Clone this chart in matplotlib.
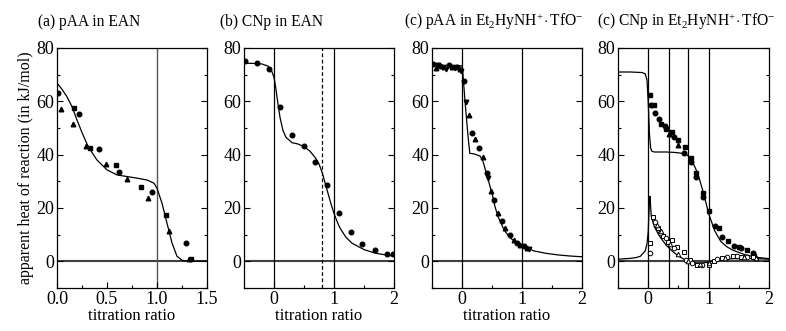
import numpy as np
import matplotlib
matplotlib.use('Agg')
import matplotlib.pyplot as plt
from matplotlib.ticker import MultipleLocator

plt.rcParams['font.family'] = ['Liberation Serif', 'DejaVu Serif']
plt.rcParams['mathtext.fontset'] = 'custom'
plt.rcParams['mathtext.rm'] = 'Liberation Serif'
plt.rcParams['mathtext.it'] = 'Liberation Serif:italic'

# (a) pAA in EAN
a_circ_x = [0.01, 0.22, 0.42, 0.62, 0.95, 1.29]
a_circ_y = [63.3, 55.3, 42.2, 33.6, 25.9, 6.9]
a_sq_x = [0.17, 0.33, 0.59, 0.84, 1.09, 1.34]
a_sq_y = [57.6, 42.6, 36.1, 27.7, 17.2, 0.9]
a_tri_x = [0.04, 0.16, 0.29, 0.49, 0.70, 0.91, 1.12, 1.32]
a_tri_y = [57.3, 51.5, 43.2, 36.5, 30.9, 23.7, 11.2, 0.9]
a_fit_x = [0.0, 0.05, 0.1, 0.15, 0.2, 0.25, 0.3, 0.35, 0.4, 0.5, 0.6, 0.7, 0.8,
           0.9, 0.97, 1.0, 1.05, 1.1, 1.15, 1.2, 1.25, 1.3, 1.5]
a_fit_y = [66.9, 64.5, 61.7, 58.0, 53.0, 48.3, 44.0, 40.8, 38.0, 34.3, 32.4, 31.8,
           31.2, 30.5, 29.3, 27.4, 21.8, 14.3, 6.9, 1.9, 0.4, 0.0, 0.0]

# (b) CNp in EAN
b_x = [-0.48, -0.28, -0.09, 0.106, 0.30, 0.50, 0.69, 0.88, 1.08, 1.28, 1.47, 1.69, 1.88, 1.98]
b_y = [75.0, 74.5, 72.3, 57.9, 47.5, 43.4, 37.1, 28.5, 18.3, 11.0, 6.5, 4.1, 2.9, 2.6]
b_fit_x = [-0.5, -0.3, -0.2, -0.1, -0.05, 0.0, 0.03, 0.06, 0.1, 0.15, 0.2, 0.3, 0.4,
           0.5, 0.6, 0.7, 0.75, 0.8, 0.85, 0.9, 0.95, 1.0, 1.05, 1.1, 1.2, 1.3, 1.5,
           1.7, 2.0]
b_fit_y = [74.3, 74.2, 74.0, 73.2, 72.0, 69.0, 65.0, 60.0, 54.0, 49.0, 46.5, 44.5,
           44.0, 43.0, 41.3, 38.5, 36.5, 33.5, 29.5, 25.5, 21.5, 18.0, 15.0, 12.5,
           9.0, 6.8, 4.4, 3.0, 1.9]

# (c) pAA in Et2HyNH+ TfO-
c_circ_x = [-0.48, -0.36, -0.22, -0.08, 0.04, 0.17, 0.29, 0.42, 0.54, 0.67, 0.80, 0.92, 1.03]
c_circ_y = [74.0, 73.2, 73.5, 72.8, 67.5, 48.0, 42.4, 33.0, 23.0, 15.0, 10.0, 6.9, 5.6]
c_tri_x = [-0.44, -0.30, -0.16, -0.03, 0.11, 0.22, 0.35, 0.49, 0.60, 0.72, 0.86, 0.97, 1.08]
c_tri_y = [72.5, 72.8, 73.0, 72.2, 55.0, 45.7, 39.3, 26.2, 18.0, 12.5, 8.1, 6.2, 5.0]
c_itri_x = [-0.40, -0.26, -0.12, -0.01, 0.07, 0.44, 1.12]
c_itri_y = [73.5, 72.0, 72.5, 71.5, 59.8, 31.2, 4.6]
c_fit_x = [-0.5, -0.3, -0.1, 0.0, 0.01, 0.05, 0.1, 0.13, 0.2, 0.3, 0.35, 0.4, 0.45,
           0.5, 0.55, 0.6, 0.7, 0.8, 0.9, 1.0, 1.1, 1.2, 1.4, 1.6, 1.8, 2.0]
c_fit_y = [73.5, 73.5, 73.5, 73.3, 72.0, 60.0, 47.0, 40.5, 40.3, 39.5, 37.5, 33.5,
           29.5, 25.5, 20.5, 16.8, 11.8, 8.8, 7.2, 6.0, 4.8, 3.9, 3.0, 2.4, 2.0, 1.7]

# (c) CNp in Et2HyNH+ TfO-  (filled: upper, open: lower)
d_fsq_x = [0.03, 0.09, 0.21, 0.29, 0.40, 0.49, 0.61, 0.71, 0.79, 0.91, 1.01, 1.18, 1.32,
           1.50, 1.64, 1.75]
d_fsq_y = [62.3, 58.6, 51.5, 49.8, 48.6, 45.5, 42.7, 38.6, 33.0, 25.8, 18.9, 12.5, 7.5,
           5.4, 4.1, 2.1]
d_fci_x = [0.04, 0.12, 0.18, 0.27, 0.43, 0.60, 0.71, 0.79, 0.91, 1.11, 1.22, 1.42, 1.54,
           1.73]
d_fci_y = [58.6, 55.8, 53.2, 50.7, 46.5, 40.5, 37.4, 31.8, 24.3, 13.1, 9.3, 5.9, 5.0, 3.1]
d_ftri_x = [0.34, 0.50, 1.79]
d_ftri_y = [47.7, 43.6, 1.4]
d_osq_x = [0.03, 0.08, 0.17, 0.25, 0.33, 0.39, 0.47, 0.59, 0.69, 0.81, 1.00, 1.09, 1.22,
           1.41, 1.54, 1.73]
d_osq_y = [6.9, 16.8, 12.5, 9.6, 7.1, 7.9, 5.4, 3.4, 0.6, -1.5, -1.5, 0.0, 1.2, 1.9, 1.5,
           1.6]
d_oci_x = [0.03, 0.12, 0.19, 0.29, 0.42, 0.63, 0.73, 0.89, 1.14, 1.31, 1.47, 1.64]
d_oci_y = [3.1, 14.6, 10.6, 8.7, 5.0, 0.6, -0.6, -1.5, 0.9, 1.6, 1.9, 1.6]
d_otri_x = [0.14, 0.22, 0.36, 0.50, 0.66, 0.85, 1.01, 1.27, 1.59, 1.78]
d_otri_y = [13.5, 11.2, 6.5, 2.9, 0.2, -1.0, -0.6, 1.4, 1.8, 1.2]
d_fit1_x = [-0.5, -0.3, -0.1, -0.05, -0.02, 0.0, 0.02, 0.04, 0.06, 0.1, 0.2, 0.3, 0.4,
            0.5, 0.6, 0.65, 0.7, 0.75, 0.8, 0.85, 0.9, 0.95, 1.0, 1.1, 1.2, 1.3, 1.4,
            1.6, 1.8, 2.0]
d_fit1_y = [71.0, 71.0, 70.8, 70.3, 68.0, 60.0, 48.0, 42.5, 41.3, 41.0, 41.0, 41.0,
            40.9, 40.7, 40.3, 39.8, 38.6, 36.5, 34.0, 30.7, 26.8, 22.5, 18.0, 11.5,
            7.5, 5.5, 4.2, 2.5, 1.5, 1.0]
d_fit2_x = [-0.5, -0.3, -0.2, -0.13, -0.05, -0.02, 0.0, 0.01, 0.02, 0.03, 0.05, 0.1,
            0.2, 0.3, 0.4, 0.5, 0.6, 0.7, 0.8, 0.9, 1.0, 1.1, 1.2, 1.4, 1.6, 1.8, 2.0]
d_fit2_y = [0.8, 1.1, 1.4, 1.9, 3.9, 6.5, 11.0, 17.0, 22.0, 24.4, 17.0, 13.0, 9.0,
            6.0, 3.8, 2.0, 0.7, -0.2, -0.6, -0.6, -0.3, 0.2, 0.6, 1.0, 1.1, 1.0, 0.8]

W, H = 786, 331
fig = plt.figure(figsize=(W / 100, H / 100), dpi=100)


def make_ax(x0, x1, y0=48, y1=288):
    ax = fig.add_axes([x0 / W, 1 - y1 / H, (x1 - x0) / W, (y1 - y0) / H])
    ax.set_ylim(-10, 80)
    ax.yaxis.set_major_locator(MultipleLocator(20))
    ax.yaxis.set_minor_locator(MultipleLocator(10))
    ax.tick_params(which='both', direction='in', right=True, top=False,
                   labelsize=13, pad=2, width=0.8)
    ax.tick_params(which='major', length=4)
    ax.tick_params(which='minor', length=2.5)
    for s in ax.spines.values():
        s.set_linewidth(0.9)
    ax.axhline(0, color='#404040', lw=1.5, zorder=1)
    return ax


mk = dict(color='black', ls='none', ms=3.3, zorder=3)
op = dict(color='black', ls='none', ms=3.3, mfc='white', mew=0.7, zorder=3)

# panel a
ax1 = make_ax(57, 207)
ax1.set_xlim(0, 1.5)
ax1.xaxis.set_major_locator(MultipleLocator(0.5))
ax1.xaxis.set_minor_locator(MultipleLocator(0.25))
ax1.xaxis.set_major_formatter(matplotlib.ticker.FormatStrFormatter('%.1f'))
ax1.axvline(1.0, color='#555555', lw=1.0, zorder=1)
ax1.plot(a_fit_x, a_fit_y, color='black', lw=0.9, zorder=2)
ax1.plot(a_circ_x, a_circ_y, marker='o', **mk)
ax1.plot(a_sq_x, a_sq_y, marker='s', **mk)
ax1.plot(a_tri_x, a_tri_y, marker='^', **mk)
ax1.set_ylabel('apparent heat of reaction (in kJ/mol)', fontsize=11.5, labelpad=2)
ax1.set_xlabel('titration ratio', fontsize=12, labelpad=0)

# panel b
ax2 = make_ax(244, 394)
ax2.set_xlim(-0.5, 2)
for v in [0, 1]:
    ax2.axvline(v, color='black', lw=0.9, zorder=1)
ax2.axvline(0.8, color='black', lw=0.9, ls=(0, (3, 2)), zorder=1)
ax2.plot(b_fit_x, b_fit_y, color='black', lw=0.9, zorder=2)
ax2.plot(b_x, b_y, marker='o', **mk)
ax2.set_xlabel('titration ratio', fontsize=12, labelpad=0)

# panel c
ax3 = make_ax(432, 582)
ax3.set_xlim(-0.5, 2)
for v in [0, 1]:
    ax3.axvline(v, color='black', lw=0.9, zorder=1)
ax3.plot(c_fit_x, c_fit_y, color='black', lw=0.9, zorder=2)
ax3.plot(c_circ_x, c_circ_y, marker='o', **mk)
ax3.plot(c_tri_x, c_tri_y, marker='^', **mk)
ax3.plot(c_itri_x, c_itri_y, marker='v', **mk)
ax3.set_xlabel('titration ratio', fontsize=12, labelpad=0)

# panel d
ax4 = make_ax(618, 769)
ax4.set_xlim(-0.5, 2)
for v in [0, 0.35, 0.66, 1]:
    ax4.axvline(v, color='black', lw=0.9, zorder=1)
ax4.plot(d_fit1_x, d_fit1_y, color='black', lw=0.9, zorder=2)
ax4.plot(d_fit2_x, d_fit2_y, color='black', lw=0.9, zorder=2)
ax4.plot(d_fsq_x, d_fsq_y, marker='s', **mk)
ax4.plot(d_fci_x, d_fci_y, marker='o', **mk)
ax4.plot(d_ftri_x, d_ftri_y, marker='^', **mk)
ax4.plot(d_osq_x, d_osq_y, marker='s', **op)
ax4.plot(d_oci_x, d_oci_y, marker='o', **op)
ax4.plot(d_otri_x, d_otri_y, marker='^', **op)

for ax in [ax2, ax3, ax4]:
    ax.xaxis.set_major_locator(MultipleLocator(1))
    ax.xaxis.set_minor_locator(MultipleLocator(0.5))

titles = ['(a) pAA in EAN', '(b) CNp in EAN',
          r'(c) pAA in Et$_2$HyNH$^{+}\!\cdot$TfO$^{-}$',
          r'(c) CNp in Et$_2$HyNH$^{+}\!\cdot$TfO$^{-}$']
tx = [38, 220, 404, 597]
for t, x in zip(titles, tx):
    fig.text(x / W, 1 - 26 / H, t, fontsize=11.2, ha='left', va='baseline')

fig.savefig('out.png', dpi=100)
